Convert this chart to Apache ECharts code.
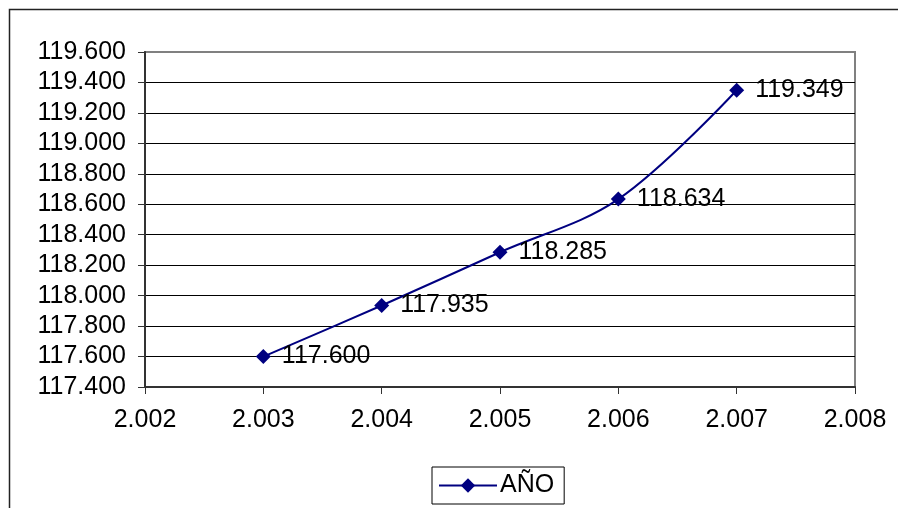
<!DOCTYPE html>
<html>
<head>
<meta charset="utf-8">
<script src="https://cdn.jsdelivr.net/npm/echarts@6/dist/echarts.min.js"></script>
<style>
  html, body { margin: 0; padding: 0; background: #fff; }
  #chart { width: 898px; height: 508px; }
</style>
</head>
<body>
<div id="chart"></div>
<script>
// Population per year
const years = [2003, 2004, 2005, 2006, 2007];
const values = [117600, 117935, 118285, 118634, 119349];
const seriesName = 'AÑO';

const yMin = 117400, yMax = 119600, yStep = 200;
const xMin = 2002, xMax = 2008, xStep = 1;

// Spanish-style thousands separator
function fmt(v) {
  return String(Math.round(v)).replace(/\B(?=(\d{3})+(?!\d))/g, '.');
}

const FONT = 'Liberation Sans, Arial, sans-serif';
const FS = 25;
const NAVY = '#000080';

// gridlines are black; the topmost one coincides with the grey plot frame
const nLines = Math.round((yMax - yMin) / yStep) + 1;
const splitColors = Array.from({ length: nLines }, (_, i) => i === nLines - 1 ? '#808080' : '#000');

const chart = echarts.init(document.getElementById('chart'), null, { renderer: 'canvas' });
chart.setOption({
  animation: false,
  backgroundColor: '#fff',
  textStyle: { fontFamily: FONT },
  graphic: [{
    type: 'rect',
    shape: { x: 9.5, y: 9.5, width: 1000, height: 1000 },
    style: { fill: 'none', stroke: '#222', lineWidth: 1.5 },
    z: -1
  }],
  grid: {
    left: 145, top: 52, right: 43, bottom: 121,
    show: true, borderColor: '#808080', borderWidth: 2, backgroundColor: 'transparent'
  },
  legend: {
    left: 432, top: 467,
    padding: [6, 10, 6, 6],
    itemWidth: 58, itemHeight: 18, itemGap: 0,
    borderColor: '#000', borderWidth: 1,
    textStyle: { fontFamily: FONT, fontSize: FS, color: '#000', padding: [0, 0, 0, -2] },
    data: [{ name: seriesName }]
  },
  xAxis: {
    type: 'value', min: xMin, max: xMax, interval: xStep,
    axisLine: { show: true, lineStyle: { color: '#333', width: 2 } },
    axisTick: { show: true, inside: false, length: 7, lineStyle: { color: '#333', width: 1 } },
    axisLabel: { fontFamily: FONT, fontSize: FS, color: '#000', margin: 21, formatter: fmt },
    splitLine: { show: false }
  },
  yAxis: {
    type: 'value', min: yMin, max: yMax, interval: yStep,
    axisLine: { show: true, lineStyle: { color: '#333', width: 2 } },
    axisTick: { show: true, inside: false, length: 7, lineStyle: { color: '#333', width: 1 } },
    axisLabel: { fontFamily: FONT, fontSize: FS, color: '#000', margin: 19, formatter: fmt },
    splitLine: { show: true, lineStyle: { color: splitColors, width: 1 } }
  },
  series: [{
    name: seriesName,
    type: 'line',
    smooth: 0.35,
    data: years.map((y, i) => [y, values[i]]),
    symbol: 'diamond',
    symbolSize: 15,
    lineStyle: { color: NAVY, width: 2 },
    itemStyle: { color: NAVY },
    label: {
      show: true, position: 'right', distance: 11,
      fontFamily: FONT, fontSize: FS, color: '#000',
      formatter: p => fmt(p.value[1])
    }
  }]
});
</script>
</body>
</html>
